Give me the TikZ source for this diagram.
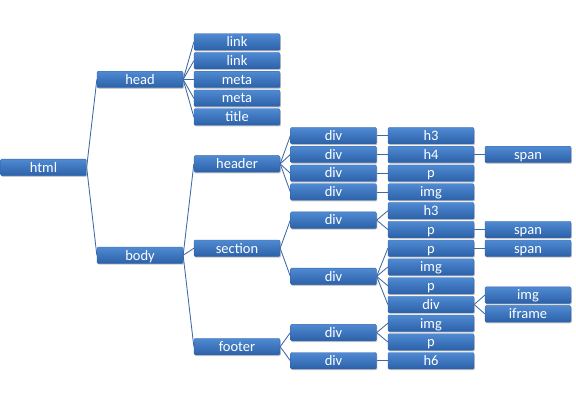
\documentclass[tikz,border=0pt]{standalone}
\usepackage{fontspec}
\setmainfont{Carlito}
\usetikzlibrary{shadows}
\definecolor{boxtop}{HTML}{4F8AD2}
\definecolor{boxbot}{HTML}{2C61A8}
\definecolor{boxline}{HTML}{3466AA}
\definecolor{conn}{HTML}{3D69A6}
\tikzset{
  tbox/.style={rectangle, rounded corners=1.2pt, minimum width=86pt, minimum height=16.5pt,
    inner sep=0pt, top color=boxtop, bottom color=boxbot, draw=boxline, line width=0.3pt,
    text=white, font=\fontsize{14.5}{14.5}\selectfont, text height=11.5pt, text depth=2pt,
    drop shadow={shadow xshift=0.8pt, shadow yshift=-1.2pt, opacity=0.35, fill=black!60}},
  tline/.style={draw=conn, line width=0.85pt}
}
\begin{document}
\begin{tikzpicture}[x=1pt,y=-1pt]
\useasboundingbox (0,0) rectangle (576,401);
\def\r{18.75}
\pgfmathsetmacro{\yz}{42}
% columns
\def\ca{43.5}\def\cb{140}\def\cc{237}\def\cd{333.5}\def\ce{431}\def\cf{528}
% level 3 head children
\node[tbox] (link1) at (\cc,{\yz+0*\r}) {link};
\node[tbox] (link2) at (\cc,{\yz+1*\r}) {link};
\node[tbox] (meta1) at (\cc,{\yz+2*\r}) {meta};
\node[tbox] (meta2) at (\cc,{\yz+3*\r}) {meta};
\node[tbox] (title) at (\cc,{\yz+4*\r}) {title};
\node[tbox] (head) at (\cb,{\yz+2*\r}) {head};
% level 5
\node[tbox] (h3a) at (\ce,{\yz+5*\r}) {h3};
\node[tbox] (h4) at (\ce,{\yz+6*\r}) {h4};
\node[tbox] (pa) at (\ce,{\yz+7*\r}) {p};
\node[tbox] (imga) at (\ce,{\yz+8*\r}) {img};
\node[tbox] (h3b) at (\ce,{\yz+9*\r}) {h3};
\node[tbox] (pb) at (\ce,{\yz+10*\r}) {p};
\node[tbox] (pc) at (\ce,{\yz+11*\r}) {p};
\node[tbox] (imgb) at (\ce,{\yz+12*\r}) {img};
\node[tbox] (pd) at (\ce,{\yz+13*\r}) {p};
\node[tbox] (divx) at (\ce,{\yz+14*\r}) {div};
\node[tbox] (imgc) at (\ce,{\yz+15*\r}) {img};
\node[tbox] (pe) at (\ce,{\yz+16*\r}) {p};
\node[tbox] (h6) at (\ce,{\yz+17*\r}) {h6};
% level 6
\node[tbox] (spana) at (\cf,{\yz+6*\r}) {span};
\node[tbox] (spanb) at (\cf,{\yz+10*\r}) {span};
\node[tbox] (spanc) at (\cf,{\yz+11*\r}) {span};
\node[tbox] (imgd) at (\cf,{\yz+13.5*\r}) {img};
\node[tbox] (iframe) at (\cf,{\yz+14.5*\r}) {iframe};
% level 4
\node[tbox] (d1) at (\cd,{\yz+5*\r}) {div};
\node[tbox] (d2) at (\cd,{\yz+6*\r}) {div};
\node[tbox] (d3) at (\cd,{\yz+7*\r}) {div};
\node[tbox] (d4) at (\cd,{\yz+8*\r}) {div};
\node[tbox] (d5) at (\cd,{\yz+9.5*\r}) {div};
\node[tbox] (d6) at (\cd,{\yz+12.5*\r}) {div};
\node[tbox] (d7) at (\cd,{\yz+15.5*\r}) {div};
\node[tbox] (d8) at (\cd,{\yz+17*\r}) {div};
% level 3 body children
\node[tbox] (header) at (\cc,{\yz+6.5*\r}) {header};
\node[tbox] (section) at (\cc,{\yz+11*\r}) {section};
\node[tbox] (footer) at (\cc,{\yz+16.25*\r}) {footer};
\node[tbox] (body) at (\cb,{\yz+11.375*\r}) {body};
\node[tbox] (html) at (\ca,{\yz+6.6875*\r}) {html};
% connectors
\foreach \a/\b in {html/head, html/body, head/link1, head/link2, head/meta1, head/meta2, head/title,
  body/header, body/section, body/footer,
  header/d1, header/d2, header/d3, header/d4, section/d5, section/d6, footer/d7, footer/d8,
  d1/h3a, d2/h4, d3/pa, d4/imga, d5/h3b, d5/pb, d6/pc, d6/imgb, d6/pd, d6/divx, d7/imgc, d7/pe, d8/h6,
  h4/spana, pb/spanb, pc/spanc, divx/imgd, divx/iframe}
  \draw[tline] (\a.east) -- (\b.west);
\end{tikzpicture}
\end{document}
